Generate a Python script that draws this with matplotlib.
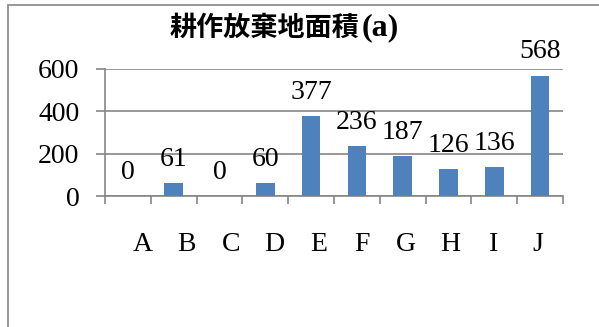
import numpy as np
import matplotlib.pyplot as plt
from matplotlib.patches import Rectangle

# data
categories = ['A', 'B', 'C', 'D', 'E', 'F', 'G', 'H', 'I', 'J']
areas = [0, 61, 0, 60, 377, 236, 187, 126, 136, 568]
yticks = [0, 200, 400, 600]

serif = 'Liberation Serif'
gray = '#868686'
barcol = '#4F81BD'

fig = plt.figure(figsize=(5.99, 3.27), dpi=100)
ax = fig.add_axes([105/599, 1-196/327, 458/599, 127/327])

x = np.arange(len(categories))
bars = ax.bar(x, areas, width=0.41, color=barcol, zorder=3)

# value labels above bars
for xi, v in zip(x, areas):
    ax.annotate(str(v), (xi, v), xytext=(0, 12.5), textcoords='offset points',
                ha='center', va='baseline', fontsize=20, family=serif)

ax.set_xlim(-0.5, len(categories)-0.5)
ax.set_ylim(0, 600)
ax.set_yticks(yticks)
ax.set_yticklabels([str(t) for t in yticks], fontsize=20, family=serif)
# category labels sit a little off the bar centres, like the original
ax.set_xticks(0.33 + 0.958*x)
ax.set_xticklabels(categories, fontsize=20, family=serif)
ax.set_xticks(np.arange(len(categories)+1) - 0.5, minor=True)

ax.tick_params(axis='x', which='major', length=0, pad=26)
ax.tick_params(axis='x', which='minor', length=6, width=1.2, color=gray, direction='out')
ax.tick_params(axis='y', length=6.5, width=1.2, color=gray, pad=12)

ax.yaxis.grid(True, color=gray, linewidth=1.2, zorder=0)
for s in ['top', 'right']:
    ax.spines[s].set_visible(False)
for s in ['left', 'bottom']:
    ax.spines[s].set_color(gray)
    ax.spines[s].set_linewidth(1.2)

# title: Japanese part and serif "(a)"
fig.text(359/599, 1-28/327, '耕作放棄地面積', family=['Noto Sans CJK JP', 'DejaVu Sans'],
         fontsize=19.5, fontweight='bold', ha='right', va='center')
fig.text(362/599, 1-28/327, '(a)', family=serif, fontsize=23, fontweight='bold',
         ha='left', va='center')

# chart border (extends past the right and bottom edges)
fig.add_artist(Rectangle((8/599, -0.1), 1.2, 1-5/327+0.1, transform=fig.transFigure,
                         fill=False, edgecolor=gray, linewidth=1.2))

fig.savefig('out.png', dpi=100)
